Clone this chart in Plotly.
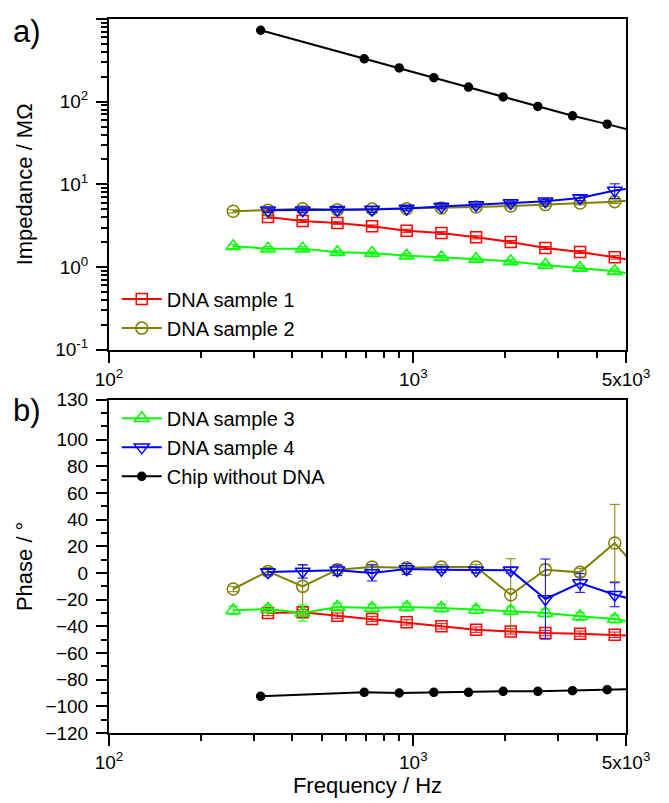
import plotly.graph_objects as go

# ---------------- data ----------------
freq_dna = [256, 333, 433, 563, 732, 951, 1237, 1608, 2090, 2717, 3533, 4593, 5971]
freq_chip = [315, 690, 899, 1168, 1518, 1974, 2566, 3336, 4337, 5638]

series_names = ["DNA sample 1", "DNA sample 2", "DNA sample 3", "DNA sample 4", "Chip without DNA"]

# impedance (MOhm)
imp_s1 = [None, 4.04, 3.61, 3.41, 3.11, 2.75, 2.58, 2.29, 2.01, 1.70, 1.52, 1.31, 1.12]
imp_s2 = [4.72, 4.85, 5.08, 4.94, 5.03, 5.08, 5.19, 5.33, 5.48, 5.69, 5.96, 6.18, 6.7]
imp_s3 = [1.78, 1.67, 1.67, 1.51, 1.48, 1.37, 1.31, 1.25, 1.17, 1.06, 0.975, 0.89, 0.77]
imp_s4 = [None, 4.85, 4.85, 4.94, 4.97, 5.1, 5.38, 5.64, 5.96, 6.24, 6.86, 8.45, 9.5]
imp_chip = [731, 330, 256, 195, 150, 114, 87.5, 67.5, 53.5, 41.5]

err_imp_s1 = [0, 0.15, 0.15, 0.12, 0.12, 0.12, 0.1, 0.1, 0.08, 0.07, 0.06, 0.06, 0.05]
err_imp_s2 = [0.2, 0.3, 0.4, 0.3, 0.3, 0.3, 0.3, 0.3, 0.3, 0.3, 0.3, 0.3, 0.3]
err_imp_s3 = [0.1, 0.1, 0.1, 0.08, 0.08, 0.08, 0.07, 0.07, 0.07, 0.06, 0.06, 0.06, 0.05]
err_imp_s4 = [0, 0.3, 0.3, 0.3, 0.4, 0.3, 0.3, 0.3, 0.3, 0.3, 0.5, 1.7, 1.0]

# phase (degrees)
ph_s1 = [None, -30, -29.5, -32, -34.5, -37, -40, -42.5, -43.8, -45, -45.5, -46.3, -47.5]
ph_s2 = [-12, 1.2, -10, 2.5, 4.5, 4, 4.5, 4.5, -16.3, 2.5, 0.5, 22.5, -7]
ph_s3 = [-28, -27, -30, -25.5, -26.3, -25.5, -26.3, -27.5, -28.3, -30, -32.5, -34.5, -39]
ph_s4 = [None, 0.7, 1.2, 2, 0, 3, 2.5, 2, 2, -19.5, -7.5, -16.3, -23]
ph_chip = [-92.5, -89.5, -90, -89.5, -89.5, -88.75, -88.75, -88.25, -87.5, -87]

err_ph_s1 = [0, 2, 2, 2, 2, 2, 2, 2, 2, 2, 2, 2, 2]
err_ph_s2 = [2, 3, 16, 3, 2, 3, 2, 2, 27, 4, 3, 29, 5]
err_ph_s3 = [3, 3, 6, 3, 3, 3, 3, 3, 3, 3, 3, 3, 3]
err_ph_s4 = [0, 2, 5, 4, 6, 4, 2, 2, 2, 30, 7, 9, 5]

# ticks
x_tickvals = [100, 1000, 5000]
x_ticktext = ["10<sup>2</sup>", "10<sup>3</sup>", "5x10<sup>3</sup>"]
x_minor = [200, 300, 400, 500, 600, 700, 800, 900, 2000, 3000, 4000]
imp_tickvals = [0.1, 1, 10, 100, 1000]
imp_ticktext = ["10<sup>-1</sup>", "10<sup>0</sup>", "10<sup>1</sup>", "10<sup>2</sup>", "10<sup>3</sup>"]
imp_minor = [m * d for d in [0.1, 1, 10, 100] for m in range(2, 10)]
ph_tickvals = [-120, -100, -80, -60, -40, -20, 0, 20, 40, 60, 80, 100, 130]
ph_minor = [-110, -90, -70, -50, -30, -10, 10, 30, 50, 70, 90, 110, 120]

# ---------------- styles ----------------
colors = ["#FF0000", "#808000", "#00FF00", "#0000FF", "#000000"]
symbols = ["square-open", "circle-open", "triangle-up-open", "triangle-down-open", "circle"]
sizes = [11, 12, 13, 13, 8]
legend_of = ["legend", "legend", "legend2", "legend2", "legend2"]

FONT = "Liberation Sans, Arial, sans-serif"

fig = go.Figure()

imp_data = [(freq_dna, imp_s1, err_imp_s1), (freq_dna, imp_s2, err_imp_s2),
            (freq_dna, imp_s3, err_imp_s3), (freq_dna, imp_s4, err_imp_s4),
            (freq_chip, imp_chip, None)]
ph_data = [(freq_dna, ph_s1, err_ph_s1), (freq_dna, ph_s2, err_ph_s2),
           (freq_dna, ph_s3, err_ph_s3), (freq_dna, ph_s4, err_ph_s4),
           (freq_chip, ph_chip, None)]

for panel, data, xa, ya in [(0, imp_data, "x", "y"), (1, ph_data, "x2", "y2")]:
    for i, (fx, fy, fe) in enumerate(data):
        err = dict(type="data", array=fe, visible=True, color=colors[i],
                   thickness=1, width=5) if fe is not None else None
        fig.add_trace(go.Scatter(
            x=fx, y=fy, mode="lines+markers", name=series_names[i],
            xaxis=xa, yaxis=ya,
            line=dict(color=colors[i], width=2),
            marker=dict(symbol=symbols[i], size=sizes[i], color=colors[i],
                        line=dict(width=1.5, color=colors[i])),
            error_y=err,
            connectgaps=False,
            legend=legend_of[i],
            showlegend=(panel == 0 and i < 2) or (panel == 1 and i >= 2),
        ))

axis_common = dict(
    showline=True, linecolor="black", linewidth=2, mirror=True,
    ticks="outside", tickcolor="black", tickwidth=1.5, ticklen=11,
    ticklabelstandoff=4,
    showgrid=False, zeroline=False, automargin=False,
    tickfont=dict(family=FONT, size=19, color="black"),
)
minor_common = dict(ticks="outside", ticklen=6, tickcolor="black", tickwidth=1.5)

# the page body adds an 8px offset; figure is sized to fit the 669x803 window
fig.update_layout(
    width=661, height=795,
    margin=dict(l=101, r=43, t=11, b=70),
    paper_bgcolor="white", plot_bgcolor="white",
    font=dict(family=FONT, color="black"),
    xaxis=dict(axis_common, type="log", range=[2, 3.69897], anchor="y",
               domain=[0, 1], tickvals=x_tickvals, ticktext=x_ticktext,
               ticklabelstandoff=0,
               minor=dict(minor_common, tickvals=x_minor)),
    yaxis=dict(axis_common, type="log", range=[-1, 3], anchor="x",
               domain=[0.5368, 1], tickvals=imp_tickvals, ticktext=imp_ticktext,
               minor=dict(minor_common, tickvals=imp_minor),
               title=dict(text="Impedance / M\u03a9", standoff=17,
                          font=dict(family=FONT, size=22))),
    xaxis2=dict(axis_common, type="log", range=[2, 3.69897], anchor="y2",
                domain=[0, 1], tickvals=x_tickvals, ticktext=x_ticktext,
                ticklabelstandoff=0,
                minor=dict(minor_common, tickvals=x_minor),
                title=dict(text="Frequency / Hz", standoff=3,
                           font=dict(family=FONT, size=22))),
    yaxis2=dict(axis_common, range=[-120, 130], anchor="x2",
                domain=[0, 0.4668], tickvals=ph_tickvals,
                minor=dict(minor_common, tickvals=ph_minor),
                title=dict(text="Phase / \u00b0", standoff=7,
                           font=dict(family=FONT, size=22))),
    legend=dict(x=0.015, y=0.635, xanchor="left", yanchor="top",
                bgcolor="rgba(0,0,0,0)", font=dict(family=FONT, size=20),
                itemwidth=40, tracegroupgap=0),
    legend2=dict(x=0.015, y=0.468, xanchor="left", yanchor="top",
                 bgcolor="rgba(0,0,0,0)", font=dict(family=FONT, size=20),
                 itemwidth=40, tracegroupgap=0),
    annotations=[
        dict(text="a)", x=-0.19, y=0.982, xref="paper", yref="paper",
             xanchor="left", yanchor="middle", showarrow=False,
             font=dict(family=FONT, size=31)),
        dict(text="b)", x=-0.19, y=0.452, xref="paper", yref="paper",
             xanchor="left", yanchor="middle", showarrow=False,
             font=dict(family=FONT, size=31)),
    ],
)

fig.write_html("out.html")
